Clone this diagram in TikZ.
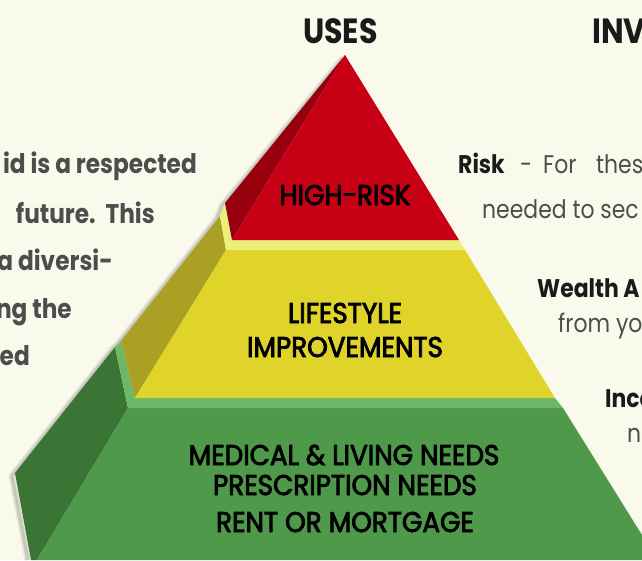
\documentclass[tikz,border=0pt]{standalone}
\usepackage{fontspec}
\setmainfont{Poppins}
\newfontfamily\fut[FakeStretch=0.86]{Poppins}
\newfontfamily\futm[FakeStretch=0.92,FakeBold=3]{Poppins}
\definecolor{bg}{RGB}{249,250,235}
\definecolor{redF}{RGB}{200,0,22}
\definecolor{redS}{RGB}{152,0,14}
\definecolor{yelRim}{RGB}{236,238,122}
\definecolor{yelF}{RGB}{224,212,42}
\definecolor{yelS}{RGB}{170,160,35}
\definecolor{grnRim}{RGB}{108,184,103}
\definecolor{grnF}{RGB}{78,154,74}
\definecolor{grnS}{RGB}{58,117,53}
\definecolor{txtgray}{RGB}{77,77,77}
\definecolor{txtdark}{RGB}{26,26,26}
\tikzset{
  lbl/.style={inner sep=0pt, anchor=base, text=black, font=\futm\fontsize{28.5}{30}\selectfont},
  head/.style={inner sep=0pt, anchor=base, text=txtdark, font=\fut\bfseries\fontsize{35}{36}\selectfont},
  lefttxt/.style={inner sep=0pt, anchor=base east, text=txtgray, font=\fut\bfseries\fontsize{27}{30}\selectfont},
  rbold/.style={inner sep=0pt, anchor=base west, text=txtdark, font=\fut\bfseries\fontsize{25.5}{27}\selectfont},
  rreg/.style={inner sep=0pt, anchor=base west, text=txtgray, font=\fut\fontsize{25.5}{27}\selectfont},
  shadowline/.style={line join=round, black, line width=#1, opacity=0.07}
}
\begin{document}
\begin{tikzpicture}[x=1pt,y=-1pt]
\useasboundingbox[fill=bg] (0,0) rectangle (642,560);
% soft shadow along the outer left silhouette
\foreach \w in {7,4.5,2.5}{
  \draw[shadowline=\w] (343,58) -- (222,206) -- (217,219) -- (118,344) -- (112,350) -- (12,476) -- (28,560);
}
% ---- green layer ----
\fill[grnS] (115,347) -- (128,408) -- (37,560) -- (31,560) -- (15,473) -- cycle;
\fill[grnF] (128,408) -- (563,408) -- (642,535) -- (642,560) -- (37,560) -- cycle;
\fill[grnRim] (121,341) -- (135,398) -- (555,398) -- (563,408) -- (128,408) -- (115,347) -- cycle;
% ---- yellow layer ----
\fill[yelS] (220,216) -- (226,250) -- (135,398) -- (121,341) -- cycle;
\fill[yelF] (226,250) -- (465,250) -- (555,398) -- (135,398) -- cycle;
\fill[yelRim] (225,203) -- (232,240) -- (459,240) -- (465,250) -- (226,250) -- (220,216) -- cycle;
% ---- red layer ----
\fill[redS] (345,55) -- (225,203) -- (232,240) -- cycle;
\fill[redF] (345,55) -- (232,240) -- (459,240) -- cycle;
% ---- pyramid labels ----
\node[lbl] (hr) at (345,205) {HIGH-RISK};
\node[lbl] (ls) at (345,323) {LIFESTYLE};
\node[lbl] (im) at (345,357) {IMPROVEMENTS};
\node[lbl] (md) at (344,465) {MEDICAL \& LIVING NEEDS};
\node[lbl] (pr) at (345,495) {PRESCRIPTION NEEDS};
\node[lbl] (rm) at (345,532) {RENT OR MORTGAGE};
% ---- headings ----
\node[head] (uses) at (340.5,43) {USES};
\node[head, anchor=base west] (inv) at (592,43) {INV};
% ---- left text ----
\node[lefttxt] (l1) at (197,173) {id is a respected};
\node[lefttxt] (l2) at (155,223) {future.\ \ This};
\node[lefttxt] (l3) at (113,270) {a diversi-};
\node[lefttxt] (l4) at (72,318) {ng the};
\node[lefttxt] (l5) at (30,365) {ed};
% ---- right text ----
\node[rbold] (r1) at (458,173) {Risk};
\node[rreg] (r1b) at (520,173) {-};
\node[rreg] (r1c) at (543,173) {For};
\node[rreg] (r1d) at (596,173) {thes};
\node[rreg] (r2) at (482,218) {needed to sec};
\node[rbold] (r3) at (537,297) {Wealth A};
\node[rreg] (r4) at (558,332) {from yo};
\node[rbold] (r5) at (605,407) {Inco};
\node[rreg] (r6) at (627,442) {ne};
\end{tikzpicture}
\end{document}
